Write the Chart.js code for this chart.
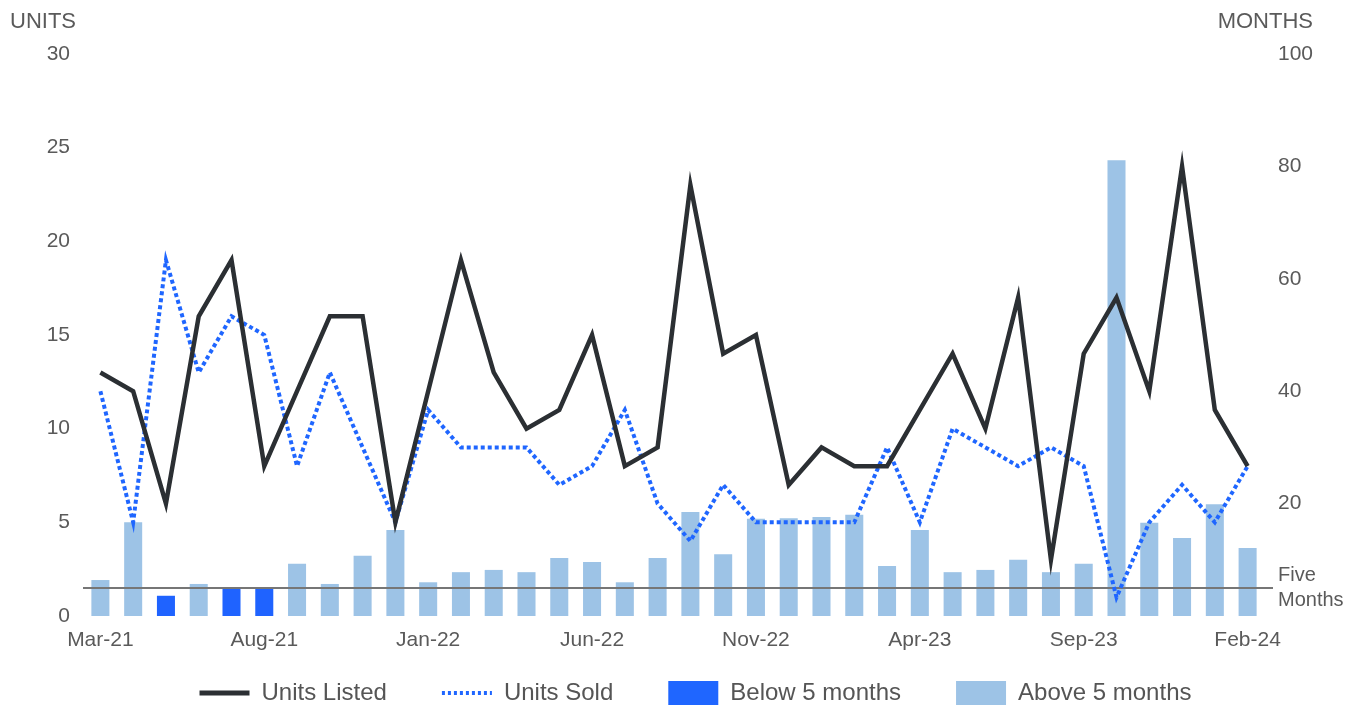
<!DOCTYPE html>
<html>
<head>
<meta charset="utf-8">
<script src="https://cdn.jsdelivr.net/npm/chart.js@4/dist/chart.umd.min.js"></script>
<style>
  html, body { margin: 0; padding: 0; background: #ffffff; }
  #wrap { width: 1359px; height: 707px; position: relative; }
</style>
</head>
<body>
<div id="wrap"><canvas id="c" width="1359" height="707"></canvas></div>
<script>
// ---- data ----
const categories = ['Mar-21','Apr-21','May-21','Jun-21','Jul-21','Aug-21','Sep-21','Oct-21','Nov-21','Dec-21',
  'Jan-22','Feb-22','Mar-22','Apr-22','May-22','Jun-22','Jul-22','Aug-22','Sep-22','Oct-22','Nov-22','Dec-22',
  'Jan-23','Feb-23','Mar-23','Apr-23','May-23','Jun-23','Jul-23','Aug-23','Sep-23','Oct-23','Nov-23','Dec-23',
  'Jan-24','Feb-24'];
const unitsListed = [13,12,6,16,19,8,12,16,16,5,12,19,13,10,11,15,8,9,23,14,15,7,9,8,8,11,14,10,17,3,14,17,12,24,11,8];
const unitsSold   = [12,5,19,13,16,15,8,13,9,5,11,9,9,9,7,8,11,6,4,7,5,5,5,5,9,5,10,9,8,9,8,1,5,7,5,8];
const monthsBelow5 = [null,null,3.6,null,4.8,4.8,null,null,null,null,null,null,null,null,null,null,null,null,
  null,null,null,null,null,null,null,null,null,null,null,null,null,null,null,null,null,null];
const monthsAbove5 = [6.4,16.7,null,5.7,null,null,9.3,5.7,10.7,15.3,6.0,7.8,8.2,7.8,10.3,9.6,6.0,10.3,18.5,11.0,
  17.3,17.4,17.6,18.0,8.9,15.3,7.8,8.2,10.0,7.8,9.3,81.1,16.6,13.9,19.9,12.1];
const unitsTicks = [0,5,10,15,20,25,30];
const monthsTicks = [20,40,60,80,100];
const fiveMonths = 5;
const xLabelEvery = 5;

const FONT = "'Liberation Sans', Arial, sans-serif";
const TXT = '#5a5a5a';

const extras = {
  id: 'extras',
  afterLayout(chart) {
    const lg = chart.legend;
    if (!lg) return;
    lg.top = 626;
    lg.bottom = chart.height + 40;
    lg.height = lg.bottom - lg.top;
    lg.left = 16;
    lg.right = chart.width + 16;
  },
  beforeDatasetDraw(chart, args) {
    if (args.index !== 1) return;
    const ctx = chart.ctx, a = chart.chartArea;
    const y = chart.scales.yMonths.getPixelForValue(fiveMonths);
    ctx.save();
    ctx.strokeStyle = '#767676';
    ctx.lineWidth = 2;
    ctx.beginPath();
    ctx.moveTo(a.left - 1, y);
    ctx.lineTo(a.right + 9, y);
    ctx.stroke();
    ctx.restore();
  },
  afterDraw(chart) {
    const ctx = chart.ctx;
    const y5 = chart.scales.yMonths.getPixelForValue(fiveMonths);
    ctx.save();
    ctx.fillStyle = TXT;
    ctx.textBaseline = 'middle';
    ctx.font = '22px ' + FONT;
    ctx.textAlign = 'left';
    ctx.fillText('UNITS', 10, 22);
    ctx.textAlign = 'right';
    ctx.fillText('MONTHS', 1313, 22);
    ctx.font = '20px ' + FONT;
    ctx.textAlign = 'left';
    ctx.fillText('Five', 1278, y5 - 12);
    ctx.fillText('Months', 1278, y5 + 13);
    ctx.restore();
  }
};

const legendStyles = [
  { pointStyle: 'line', strokeStyle: '#2b2f33', fillStyle: '#2b2f33', lineWidth: 5, lineDash: [] },
  { pointStyle: 'line', strokeStyle: '#1f66ff', fillStyle: '#1f66ff', lineWidth: 4, lineDash: [3, 3] },
  { pointStyle: 'rect', strokeStyle: '#1f66ff', fillStyle: '#1f66ff', lineWidth: 0, lineDash: [] },
  { pointStyle: 'rect', strokeStyle: '#9dc3e6', fillStyle: '#9dc3e6', lineWidth: 0, lineDash: [] }
];

new Chart(document.getElementById('c'), {
  data: {
    labels: categories,
    datasets: [
      { type: 'line', label: 'Units Listed', data: unitsListed, yAxisID: 'yUnits', order: 1,
        borderColor: '#2b2f33', borderWidth: 4.5, pointRadius: 0, tension: 0, fill: false },
      { type: 'line', label: 'Units Sold', data: unitsSold, yAxisID: 'yUnits', order: 2,
        borderColor: '#1f66ff', borderWidth: 4, borderDash: [4, 3], pointRadius: 0, tension: 0, fill: false },
      { type: 'bar', label: 'Below 5 months', data: monthsBelow5, yAxisID: 'yMonths', order: 3,
        backgroundColor: '#1f63ff', grouped: false, barPercentage: 0.55, categoryPercentage: 1 },
      { type: 'bar', label: 'Above 5 months', data: monthsAbove5, yAxisID: 'yMonths', order: 4,
        backgroundColor: '#9dc3e6', grouped: false, barPercentage: 0.55, categoryPercentage: 1 }
    ]
  },
  options: {
    responsive: false,
    animation: false,
    layout: { padding: { top: 54, left: 0, right: 0, bottom: 0 } },
    plugins: {
      title: { display: false },
      tooltip: { enabled: false },
      legend: {
        position: 'bottom',
        maxHeight: 30,
        labels: {
          usePointStyle: true,
          pointStyleWidth: 50,
          boxHeight: 24,
          padding: 55,
          color: '#555555',
          font: { family: FONT, size: 24 },
          generateLabels(chart) {
            return chart.data.datasets.map((ds, i) => Object.assign({
              text: ds.label, datasetIndex: i, hidden: false, fontColor: '#555555'
            }, legendStyles[i]));
          }
        }
      }
    },
    scales: {
      x: {
        offset: true,
        grid: { display: false, drawTicks: false },
        border: { display: false },
        ticks: {
          autoSkip: false, maxRotation: 0, padding: 12, color: TXT,
          font: { family: FONT, size: 21 },
          callback(v, i) { return i % xLabelEvery === 0 ? categories[i] : ''; }
        },
        afterFit(s) {
          const lh = (s.chart.legend && s.chart.legend.height) || 30;
          s.height = Math.max(0, s.chart.height - 616 - lh);
        }
      },
      yUnits: {
        position: 'left', min: 0, max: 30,
        grid: { display: false, drawTicks: false },
        border: { display: false },
        afterBuildTicks(s) { s.ticks = unitsTicks.map(v => ({ value: v })); },
        ticks: { padding: 14, color: TXT, font: { family: FONT, size: 21 } },
        afterFit(s) { s.width = 84; }
      },
      yMonths: {
        position: 'right', min: 0, max: 100,
        grid: { display: false, drawTicks: false },
        border: { display: false },
        afterBuildTicks(s) { s.ticks = monthsTicks.map(v => ({ value: v })); },
        ticks: { padding: 14, color: TXT, font: { family: FONT, size: 21 } },
        afterFit(s) { s.width = 95; }
      }
    }
  },
  plugins: [extras]
});
</script>
</body>
</html>
